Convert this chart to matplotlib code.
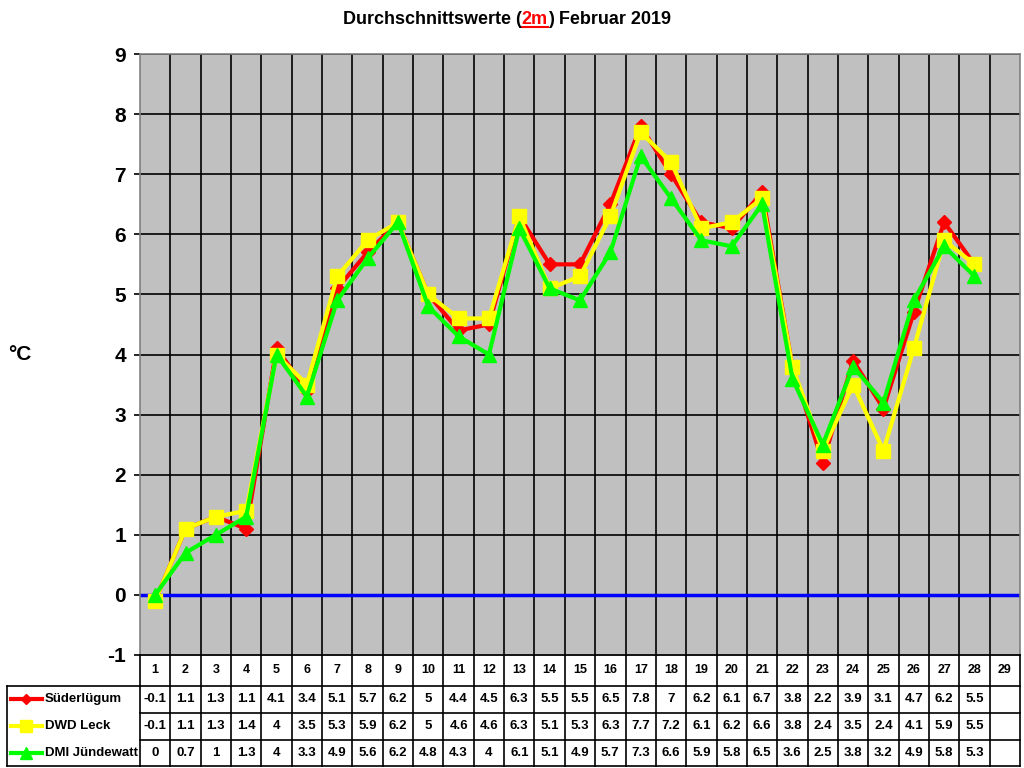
import numpy as np
import matplotlib
matplotlib.use("Agg")
import matplotlib.pyplot as plt

plt.rcParams['font.family'] = ['Liberation Sans', 'DejaVu Sans']
plt.rcParams['font.weight'] = 'bold'

days = list(range(1, 30))
names = ['Süderlügum', 'DWD Leck', 'DMI Jündewatt']
suederluegum = [-0.1, 1.1, 1.3, 1.1, 4.1, 3.4, 5.1, 5.7, 6.2, 5, 4.4, 4.5, 6.3, 5.5,
                5.5, 6.5, 7.8, 7, 6.2, 6.1, 6.7, 3.8, 2.2, 3.9, 3.1, 4.7, 6.2, 5.5]
dwd_leck = [-0.1, 1.1, 1.3, 1.4, 4, 3.5, 5.3, 5.9, 6.2, 5, 4.6, 4.6, 6.3, 5.1,
            5.3, 6.3, 7.7, 7.2, 6.1, 6.2, 6.6, 3.8, 2.4, 3.5, 2.4, 4.1, 5.9, 5.5]
dmi_juendewatt = [0, 0.7, 1, 1.3, 4, 3.3, 4.9, 5.6, 6.2, 4.8, 4.3, 4, 6.1, 5.1,
                  4.9, 5.7, 7.3, 6.6, 5.9, 5.8, 6.5, 3.6, 2.5, 3.8, 3.2, 4.9, 5.8, 5.3]
series = [suederluegum, dwd_leck, dmi_juendewatt]
colors = ['#FF0000', '#FFFF00', '#00FF00']
markers = ['D', 's', '^']
msizes = [7, 10, 10]

W, H = 1024, 768
fig = plt.figure(figsize=(W / 100, H / 100), dpi=100)

def rect(x0, y0, x1, y1):
    return [x0 / W, 1 - y1 / H, (x1 - x0) / W, (y1 - y0) / H]

ax = fig.add_axes(rect(140, 54, 1020, 655))
ax.set_facecolor('#C0C0C0')
ax.set_xlim(0.5, 29.5)
ax.set_ylim(-1, 9)
ax.set_yticks(range(-1, 10))
ax.set_yticklabels([str(v) for v in range(-1, 10)], fontsize=15, fontweight='bold')
ax.set_xticks([])
for v in range(0, 10):
    ax.axhline(v, color='black', lw=1.2, zorder=1)
for d in days[:-1]:
    ax.axvline(d + 0.5, color='black', lw=1.2, zorder=1)
ax.axhline(0, color='#0000FF', lw=2.5, zorder=2)
for s in ax.spines.values():
    s.set_color('#808080')
    s.set_linewidth(1.2)
ax.tick_params(axis='y', length=4, width=1.2, pad=6)

x = np.arange(1, len(suederluegum) + 1)
for vals, c, m, ms, n in zip(series, colors, markers, msizes, names):
    ax.plot(x, vals, color=c, lw=3, marker=m, markersize=ms, zorder=3, label=n)

fig.text(8 / W, 1 - 355 / H, '°C', fontsize=15, fontweight='bold',
         ha='left', va='center')

# title with red underlined "2m"
ty = 1 - 20 / H
t1 = fig.text(343 / W, ty, 'Durchschnittswerte (', fontsize=13,
              fontweight='bold', ha='left', va='center')
fig.canvas.draw()
bb = t1.get_window_extent()
t2 = fig.text(bb.x1 / W, ty, '2m', fontsize=13, fontweight='bold',
              color='#FF0000', ha='left', va='center')
bb2 = t2.get_window_extent()
fig.add_artist(plt.Line2D([bb2.x0 / W, bb2.x1 / W], [(bb2.y0 + 2) / H] * 2,
                          color='#FF0000', lw=1.5, transform=fig.transFigure))
fig.text(bb2.x1 / W, ty, ') Februar 2019', fontsize=13,
         fontweight='bold', ha='left', va='center')

# data table below the chart
tax = fig.add_axes(rect(140, 655, 1020, 766))
tax.set_xlim(0.5, 29.5)
tax.set_ylim(4, 0)
tax.axis('off')
row_y = [0, 1.1, 2.1, 3.05, 4.0]
for d in days:
    tax.text(d, 0.55, str(d), ha='center', va='center', fontsize=9, fontweight='bold')
for r, vals in enumerate(series):
    yc = (row_y[r + 1] + row_y[r + 2]) / 2
    for d, v in zip(x, vals):
        tax.text(d, yc, f'{v:g}', ha='center', va='center', fontsize=9.5,
                 fontweight='bold')
for d in range(0, 30):
    tax.plot([d + 0.5, d + 0.5], [0, 4], color='black', lw=1.2, clip_on=False)
for yy in row_y:
    tax.plot([0.5, 29.5], [yy, yy], color='black', lw=1.2, clip_on=False)

# legend column left of the table
lax = fig.add_axes(rect(7, 655, 140, 766))
lax.set_xlim(7, 140)
lax.set_ylim(4, 0)
lax.axis('off')
lax.plot([7, 140], [row_y[1], row_y[1]], color='black', lw=1.2, clip_on=False)
lax.plot([7, 140], [row_y[4], row_y[4]], color='black', lw=1.2, clip_on=False)
lax.plot([7, 7], [row_y[1], row_y[4]], color='black', lw=1.2, clip_on=False)
for r, (c, m, ms, n) in enumerate(zip(colors, markers, msizes, names)):
    yc = (row_y[r + 1] + row_y[r + 2]) / 2
    lax.plot([11, 42], [yc, yc], color=c, lw=3)
    lax.plot([26], [yc], color=c, marker=m, markersize=ms * 0.8)
    lax.text(45, yc, n, ha='left', va='center', fontsize=9.5, fontweight='bold')

fig.savefig('out.png', dpi=100)
